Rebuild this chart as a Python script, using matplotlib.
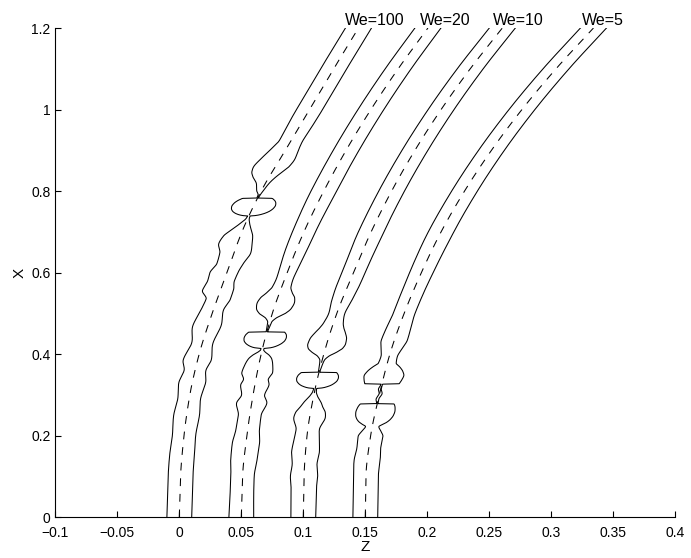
import numpy as np
import matplotlib
matplotlib.use("Agg")
import matplotlib.pyplot as plt

plt.rcParams['font.family'] = ['Liberation Sans', 'DejaVu Sans']

# Jet labels and their placement above the plot area
weber_labels = ["We=100", "We=20", "We=10", "We=5"]
label_z = [0.1336, 0.1941, 0.2532, 0.3245]
label_x = 1.207

# Jet centre-line position Z at each streamwise station X
station_x = [0.0, 0.1, 0.2, 0.3, 0.4, 0.5, 0.6, 0.7, 0.8, 0.9, 1.0, 1.1, 1.2]
center_we100 = [0.0, 0.001, 0.0038, 0.0085, 0.016, 0.0265, 0.0385, 0.0505, 0.066, 0.0855, 0.105, 0.1245, 0.1445]
center_we20 = [0.05, 0.051, 0.0545, 0.0595, 0.066, 0.075, 0.087, 0.1005, 0.1165, 0.1345, 0.1545, 0.1765, 0.2005]
center_we10 = [0.1, 0.1006, 0.103, 0.1085, 0.1165, 0.127, 0.1405, 0.1547, 0.1712, 0.19, 0.2111, 0.2346, 0.2605]
center_we5 = [0.15, 0.1505, 0.1543, 0.1613, 0.1698, 0.1813, 0.1952, 0.2111, 0.23, 0.2517, 0.2763, 0.3038, 0.334]

# Surface offsets (left / right of the centre line) along X
prof_x_we100 = [0.00, 0.15, 0.20, 0.25, 0.29, 0.33, 0.36, 0.386, 0.427, 0.47, 0.508, 0.535, 0.557,
                0.58, 0.60, 0.623, 0.648, 0.672, 0.69, 0.705, 0.72, 0.734, 0.739, 0.7395, 0.7407,
                0.7427, 0.7464, 0.7514, 0.7575, 0.7637, 0.7699, 0.7761, 0.7798, 0.7822, 0.7830, 0.79,
                0.80, 0.819, 0.835, 0.848, 0.86, 0.876, 0.90, 0.925, 0.95, 1.00, 1.20]
left_we100 = [0.0100, 0.0100, 0.0094, 0.0104, 0.0092, 0.0108, 0.0088, 0.0116, 0.0086, 0.0122, 0.0100,
              0.0090, 0.0145, 0.0132, 0.0138, 0.0108, 0.0114, 0.0150, 0.0135, 0.0090, 0.0045, 0.0012,
              0.0010, 0.0035, 0.0064, 0.0092, 0.0125, 0.0152, 0.0169, 0.0175, 0.0169, 0.0152, 0.0133,
              0.0116, 0.0006, 0.0008, 0.0035, 0.0073, 0.0131, 0.0165, 0.0175, 0.0160, 0.0125, 0.0095,
              0.0100, 0.0105, 0.0105]
right_we100 = [0.0100, 0.0100, 0.0094, 0.0104, 0.0092, 0.0108, 0.0088, 0.0110, 0.0086, 0.0106, 0.0082,
               0.0106, 0.0104, 0.0084, 0.0088, 0.0106, 0.0135, 0.0118, 0.0100, 0.0068, 0.0035, 0.0012,
               0.0010, 0.0035, 0.0064, 0.0092, 0.0125, 0.0152, 0.0169, 0.0175, 0.0169, 0.0152, 0.0133,
               0.0116, 0.0006, 0.0008, 0.0015, 0.0030, 0.0055, 0.0085, 0.0110, 0.0120, 0.0105, 0.0095,
               0.0100, 0.0105, 0.0105]

prof_x_we20 = [0.00, 0.06, 0.10, 0.14, 0.18, 0.215, 0.25, 0.28, 0.30, 0.325, 0.338, 0.355, 0.372,
               0.388, 0.398, 0.405, 0.411, 0.414, 0.4146, 0.4158, 0.4179, 0.4219, 0.4271, 0.4337,
               0.4402, 0.4468, 0.452, 0.454, 0.4548, 0.465, 0.478, 0.488, 0.50, 0.512, 0.525, 0.538,
               0.55, 0.565, 0.585, 0.62, 0.66, 0.72, 0.80, 1.20]
left_we20 = [0.0100, 0.0095, 0.0094, 0.0106, 0.0110, 0.0095, 0.0092, 0.0122, 0.0093, 0.0114, 0.0100,
             0.0124, 0.0114, 0.0095, 0.0065, 0.0030, 0.0012, 0.0012, 0.0034, 0.0063, 0.0090, 0.0121,
             0.0147, 0.0165, 0.0170, 0.0165, 0.0152, 0.0145, 0.0006, 0.0010, 0.0015, 0.0040, 0.0105,
             0.0140, 0.0150, 0.0138, 0.0105, 0.0075, 0.0068, 0.0078, 0.0088, 0.0095, 0.0103, 0.0105]
right_we20 = left_we20

prof_x_we10 = [0.00, 0.07, 0.10, 0.13, 0.16, 0.19, 0.215, 0.245, 0.256, 0.271, 0.28, 0.296, 0.308,
               0.316, 0.3165, 0.3177, 0.3198, 0.3236, 0.3287, 0.335, 0.3413, 0.3476, 0.3527, 0.355,
               0.3558, 0.37, 0.385, 0.395, 0.405, 0.415, 0.425, 0.437, 0.45, 0.463, 0.476, 0.50, 0.53,
               0.57, 0.62, 0.70, 1.20]
left_we10 = [0.0100, 0.0102, 0.0110, 0.0100, 0.0112, 0.0102, 0.0094, 0.0127, 0.0121, 0.0090, 0.0074,
             0.0034, 0.0015, 0.0012, 0.0033, 0.0062, 0.0088, 0.0120, 0.0145, 0.0163, 0.0168, 0.0163,
             0.0150, 0.0141, 0.0006, 0.0010, 0.0018, 0.0045, 0.0100, 0.0140, 0.0152, 0.0148, 0.0128,
             0.0100, 0.0080, 0.0065, 0.0080, 0.0092, 0.0095, 0.0103, 0.0105]
right_we10 = left_we10

prof_x_we5 = [0.00, 0.10, 0.14, 0.17, 0.198, 0.212, 0.2225, 0.228, 0.2335, 0.2408, 0.2499, 0.259,
              0.2681, 0.2754, 0.278, 0.2788, 0.29, 0.303, 0.315, 0.3265, 0.3275, 0.3285, 0.337, 0.347,
              0.357, 0.368, 0.378, 0.394, 0.41, 0.435, 0.46, 0.50, 0.55, 0.62, 0.70, 1.20]
left_we5 = [0.0100, 0.0100, 0.0105, 0.0096, 0.0100, 0.0075, 0.0054, 0.0083, 0.0112, 0.0136, 0.0152,
            0.0157, 0.0152, 0.0142, 0.0134, 0.0006, 0.0018, 0.0004, 0.0018, 0.0006, 0.0138, 0.0140,
            0.0152, 0.0160, 0.0145, 0.0112, 0.0072, 0.0066, 0.0080, 0.0105, 0.0100, 0.0088, 0.0090,
            0.0097, 0.0103, 0.0105]
right_we5 = [0.0100, 0.0100, 0.0105, 0.0096, 0.0100, 0.0075, 0.0054, 0.0083, 0.0112, 0.0136, 0.0152,
             0.0157, 0.0152, 0.0142, 0.0134, 0.0006, 0.0004, 0.0020, 0.0004, 0.0006, 0.0138, 0.0140,
             0.0152, 0.0160, 0.0145, 0.0112, 0.0072, 0.0066, 0.0080, 0.0105, 0.0100, 0.0088, 0.0090,
             0.0097, 0.0103, 0.0105]


def pchip(xk, yk, x):
    """Shape-preserving piecewise cubic Hermite interpolation."""
    xk = np.asarray(xk, float)
    yk = np.asarray(yk, float)
    h = np.diff(xk)
    d = np.diff(yk) / h
    n = len(xk)
    m = np.zeros(n)
    for k in range(1, n - 1):
        if d[k - 1] * d[k] > 0:
            w1 = 2 * h[k] + h[k - 1]
            w2 = h[k] + 2 * h[k - 1]
            m[k] = (w1 + w2) / (w1 / d[k - 1] + w2 / d[k])
    m[0] = d[0]
    m[-1] = d[-1]
    i = np.clip(np.searchsorted(xk, x, side="right") - 1, 0, n - 2)
    t = (x - xk[i]) / h[i]
    h00 = 2 * t**3 - 3 * t**2 + 1
    h10 = t**3 - 2 * t**2 + t
    h01 = -2 * t**3 + 3 * t**2
    h11 = t**3 - t**2
    return h00 * yk[i] + h10 * h[i] * m[i] + h01 * yk[i + 1] + h11 * h[i] * m[i + 1]


jets = [
    (center_we100, prof_x_we100, left_we100, right_we100),
    (center_we20, prof_x_we20, left_we20, right_we20),
    (center_we10, prof_x_we10, left_we10, right_we10),
    (center_we5, prof_x_we5, left_we5, right_we5),
]

fig = plt.figure(figsize=(6.91, 5.58), dpi=100)
ax = fig.add_axes([0.0800, 0.0729, 0.8973, 0.8769])

for center, px, left, right in jets:
    xs = np.union1d(np.linspace(0.0, 1.2, 6000), px)
    zc = pchip(station_x, center, xs)
    dl = pchip(px, left, xs)
    dr = pchip(px, right, xs)
    ax.plot(zc - dl, xs, color="k", lw=0.75)
    ax.plot(zc + dr, xs, color="k", lw=0.75)
    ax.plot(zc, xs, color="k", lw=0.75, ls=(0, (7.5, 7.5)))

for txt, z in zip(weber_labels, label_z):
    ax.text(z, label_x, txt, fontsize=11.5, ha="left", va="baseline", clip_on=False)

ax.set_xlim(-0.1, 0.4)
ax.set_ylim(0, 1.2)
xt = [-0.1, -0.05, 0, 0.05, 0.1, 0.15, 0.2, 0.25, 0.3, 0.35, 0.4]
xt_labels = ["\u22120.1", "\u22120.05", "0", "0.05", "0.1", "0.15", "0.2", "0.25", "0.3", "0.35", "0.4"]
yt = [0, 0.2, 0.4, 0.6, 0.8, 1.0, 1.2]
yt_labels = ["0", "0.2", "0.4", "0.6", "0.8", "1", "1.2"]
ax.set_xticks(xt)
ax.set_xticklabels(xt_labels)
ax.set_yticks(yt)
ax.set_yticklabels(yt_labels)
ax.spines["top"].set_visible(False)
ax.spines["right"].set_visible(False)
for s in ("left", "bottom"):
    ax.spines[s].set_linewidth(0.8)
ax.tick_params(direction="in", length=4.5, width=0.8, labelsize=10)
ax.tick_params(axis="x", pad=6)
ax.tick_params(axis="y", pad=3.5)
ax.set_xlabel("Z", fontsize=11, labelpad=0.5)
ax.set_ylabel("X", fontsize=11, labelpad=3)

fig.savefig("out.png", dpi=100)
